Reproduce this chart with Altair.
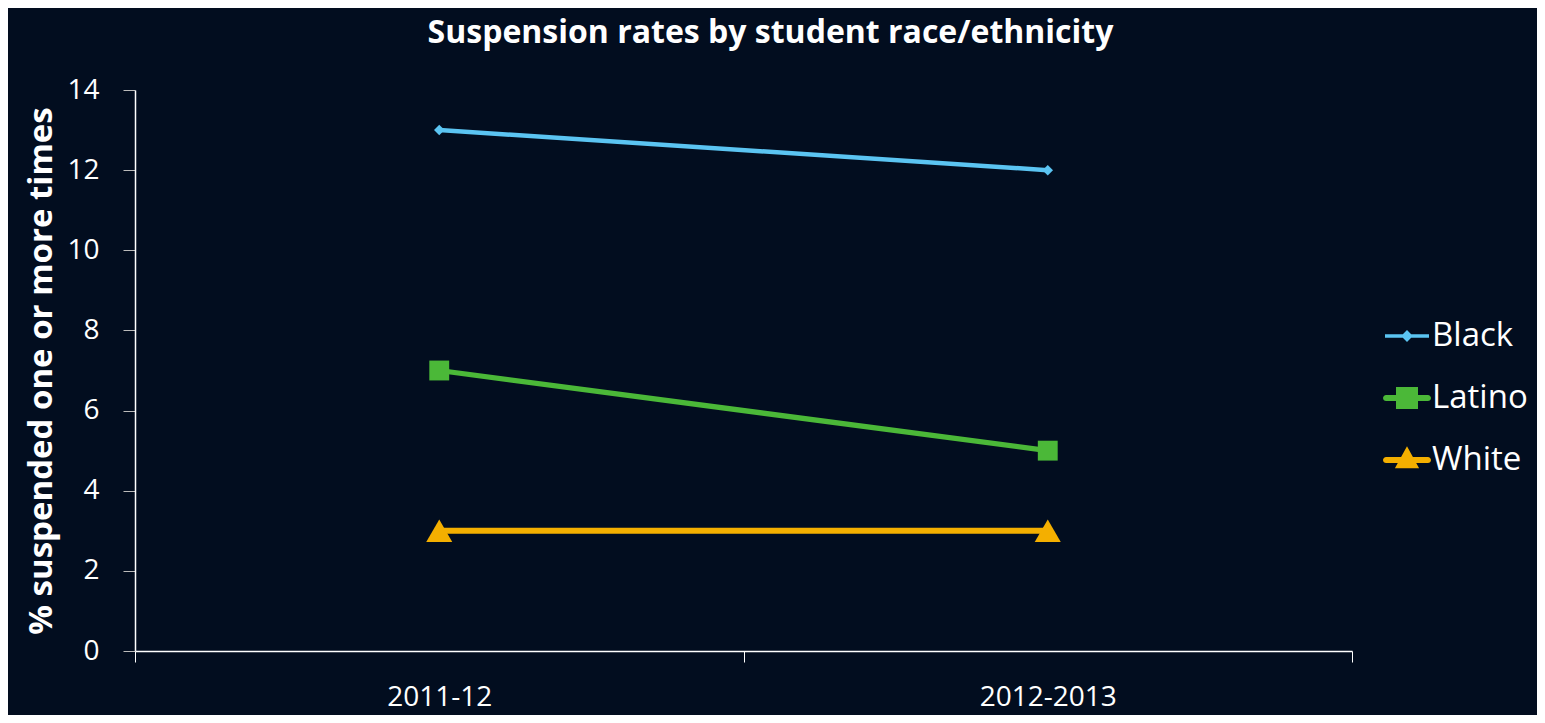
import altair as alt
import pandas as pd

years = ["2011-12", "2012-2013"]
groups = ["Black", "Latino", "White"]
black = [13, 12]
latino = [7, 5]
white = [3, 3]

colors = ["#5BC4F2", "#4BB838", "#F4AF00"]
rows = []
for g, vals in zip(groups, [black, latino, white]):
    for y, v in zip(years, vals):
        rows.append({"year": y, "group": g, "value": v})
df = pd.DataFrame(rows)

FONT = "Open Sans"
x = alt.X("year:N", sort=years, scale=alt.Scale(paddingInner=0, paddingOuter=0),
          axis=alt.Axis(title=None, tickBand="extent", labelAngle=0, labelFontSize=28,
                        labelColor="white", labelFont=FONT, labelPadding=21,
                        domainColor="white", tickColor="white", tickSize=11,
                        domainWidth=1.5))
y = alt.Y("value:Q", scale=alt.Scale(domain=[0, 14]),
          axis=alt.Axis(title="% suspended one or more times", values=list(range(0, 15, 2)),
                        titleFontSize=33, titleFont=FONT, titleFontWeight="bold",
                        titleColor="white", titlePadding=8,
                        labelFontSize=28, labelColor="white", labelFont=FONT,
                        labelPadding=24, domainColor="white", tickColor="#bbbbbb",
                        tickSize=12, grid=False, domainWidth=1.5))

color_scale = alt.Scale(domain=groups, range=colors)

lines = alt.Chart(df).mark_line().encode(
    x=x, y=y,
    color=alt.Color("group:N", scale=color_scale, legend=None),
    strokeWidth=alt.StrokeWidth("group:N", scale=alt.Scale(domain=groups, range=[4.5, 6, 6]), legend=None),
    detail="group:N",
)

points = alt.Chart(df).mark_point(filled=True, opacity=1).encode(
    x=x, y=y,
    fill=alt.Fill("group:N", scale=color_scale, legend=None),
    shape=alt.Shape("group:N", scale=alt.Scale(domain=groups, range=["diamond", "square", "triangle-up"]), legend=None),
    size=alt.Size("group:N", scale=alt.Scale(domain=groups, range=[110, 680, 800]), legend=None),
)

# legend glyphs: line + marker
p_black = "M-1,-0.08 L1,-0.08 L1,0.08 L-1,0.08 Z M0,-0.27 L0.27,0 L0,0.27 L-0.27,0 Z"
p_latino = "M-0.95,-0.14 L0.95,-0.14 A0.14,0.14 0 0 1 0.95,0.14 L-0.95,0.14 A0.14,0.14 0 0 1 -0.95,-0.14 Z M-0.5,-0.5 L0.5,-0.5 L0.5,0.5 L-0.5,0.5 Z"
p_white = "M-0.95,-0.14 L0.95,-0.14 A0.14,0.14 0 0 1 0.95,0.14 L-0.95,0.14 A0.14,0.14 0 0 1 -0.95,-0.14 Z M0,-0.62 L0.55,0.38 L-0.55,0.38 Z"

leg = dict(title=None, orient="none", legendX=1250, legendY=224,
           labelFontSize=33, labelColor="white", labelFont=FONT,
           symbolSize=1936, symbolOpacity=1, symbolStrokeWidth=0,
           rowPadding=23, labelOffset=3)

legend_layer = alt.Chart(df).mark_point(filled=True, opacity=0, size=0).encode(
    x=x, y=y,
    fill=alt.Fill("group:N", scale=alt.Scale(domain=groups, range=colors),
                  legend=alt.Legend(**leg)),
    shape=alt.Shape("group:N", scale=alt.Scale(domain=groups, range=[p_black, p_latino, p_white]),
                    legend=alt.Legend(**leg)),
)

chart = alt.layer(lines, points, legend_layer).resolve_scale(
    shape="independent", fill="independent", size="independent"
).properties(
    width=1217, height=561,
    autosize=alt.AutoSizeParams(type="none"),
    padding={"left": 127, "top": 82, "right": 185, "bottom": 64},
    background="#020d1f",
    title=alt.TitleParams("Suspension rates by student race/ethnicity", fontSize=32,
                          font=FONT, fontWeight="bold", color="white", anchor="middle",
                          dx=27, offset=26),
).configure_view(stroke=None)

chart.save("out.html", embed_options={"renderer": "svg", "actions": False})
